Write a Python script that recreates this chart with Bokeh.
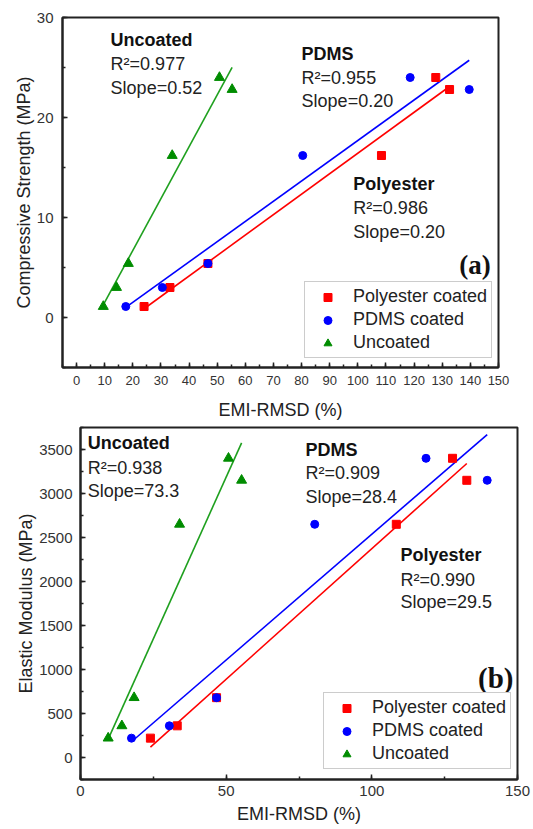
import numpy as np
from bokeh.plotting import figure
from bokeh.models import Label, Legend, LegendItem, SingleIntervalTicker, Range1d
from bokeh.embed import file_html
from bokeh.resources import INLINE

# ---------------- data ----------------
series_names = ["Polyester coated", "PDMS coated", "Uncoated"]
x_polyester = [24.0, 33.2, 46.7, 108.4, 127.7, 132.6]
x_pdms = [17.5, 30.5, 46.7, 80.4, 118.6, 139.6]
x_uncoated = [9.5, 14.2, 18.4, 34.0, 50.8, 55.3]
compressive_strength = [1.1, 3.0, 5.4, 16.2, 24.0, 22.8]
elastic_modulus = [220, 360, 680, 2650, 3400, 3150]

r2_a = {"Uncoated": "0.977", "PDMS": "0.955", "Polyester": "0.986"}
slope_a = {"Uncoated": "0.52", "PDMS": "0.20", "Polyester": "0.20"}
r2_b = {"Uncoated": "0.938", "PDMS": "0.909", "Polyester": "0.990"}
slope_b = {"Uncoated": "73.3", "PDMS": "28.4", "Polyester": "29.5"}

FONT = "Liberation Sans"
RED = "#ff0000"
BLUE = "#0000ff"
GREEN_M = "#008c00"
GREEN_L = "#1fa01f"
AXC = "#222222"


def style_axes(p, xint, yint, xfont, yfont, xstand, ylab_stand, xlab_stand, ystand):
    p.xaxis.ticker = SingleIntervalTicker(interval=xint, num_minor_ticks=2)
    p.yaxis.ticker = SingleIntervalTicker(interval=yint, num_minor_ticks=2)
    for ax in (p.xaxis[0], p.yaxis[0]):
        ax.major_tick_in = 5
        ax.major_tick_out = 0
        ax.minor_tick_in = 3
        ax.minor_tick_out = 0
        ax.axis_line_width = 2
        ax.axis_line_color = AXC
        ax.major_tick_line_color = AXC
        ax.major_tick_line_width = 1.5
        ax.minor_tick_line_color = AXC
        ax.minor_tick_line_width = 1.5
        ax.major_label_text_font = FONT
        ax.major_label_text_color = "#333333"
        ax.axis_label_text_font = FONT
        ax.axis_label_text_font_style = "normal"
        ax.axis_label_text_font_size = "18px"
        ax.axis_label_text_color = "#222222"
    p.xaxis.major_label_text_font_size = xfont
    p.yaxis.major_label_text_font_size = yfont
    p.xaxis.major_label_standoff = xstand
    p.yaxis.major_label_standoff = ystand
    p.xaxis.axis_label_standoff = xlab_stand
    p.yaxis.axis_label_standoff = ylab_stand
    p.xgrid.visible = False
    p.ygrid.visible = False
    p.outline_line_color = AXC
    p.outline_line_width = 2
    p.outline_line_alpha = 1


def add_series(p, yvals):
    renderers = []
    specs = [
        (x_polyester, "square", RED, RED, 8),
        (x_pdms, "circle", BLUE, BLUE, 8),
        (x_uncoated, "triangle", GREEN_M, GREEN_L, 10),
    ]
    for xs, marker, mc, lc, size in specs:
        k, b = np.polyfit(xs, yvals, 1)
        xl = np.array([min(xs), max(xs)])
        p.line(xl, k * xl + b, line_color=lc, line_width=1.6)
    for xs, marker, mc, lc, size in specs:
        r = p.scatter(xs, yvals, marker=marker, size=size, fill_color=mc, line_color=mc)
        renderers.append(r)
    return renderers


def add_legend(p, renderers, loc):
    items = [LegendItem(label=n, renderers=[r]) for n, r in zip(series_names, renderers)]
    lg = Legend(items=items, location=loc, padding=4, spacing=2, margin=0,
                glyph_width=37, glyph_height=20, label_height=20, label_standoff=7,
                label_text_font=FONT, label_text_font_size="18px", label_text_color="#222222",
                border_line_color="#999999", border_line_width=1,
                background_fill_color="white", background_fill_alpha=1)
    p.add_layout(lg)


def add_block(p, x, ys, title, r2, slope):
    p.add_layout(Label(x=x, y=ys[0], text=title, text_font=FONT, text_font_size="18px",
                       text_font_style="bold", text_color="#111111", text_baseline="middle"))
    p.add_layout(Label(x=x, y=ys[1], text="R\u00b2=" + r2, text_font=FONT, text_font_size="18px",
                       text_color="#222222", text_baseline="middle"))
    p.add_layout(Label(x=x, y=ys[2], text="Slope=" + slope, text_font=FONT, text_font_size="18px",
                       text_color="#222222", text_baseline="middle"))


# ---------------- panel (a) ----------------
p1 = figure(frame_width=436, frame_height=350, output_backend="svg", toolbar_location=None,
            x_range=Range1d(-5, 150), y_range=Range1d(-5, 30),
            min_border_left=62, min_border_top=17, min_border_right=20, min_border_bottom=53,
            x_axis_label="EMI-RMSD (%)", y_axis_label="Compressive Strength (MPa)")
style_axes(p1, 10, 10, "13px", "15px", 8, 0, 12, 9)
r1 = add_series(p1, compressive_strength)
add_legend(p1, r1, (242, 9))
add_block(p1, 12.1, [27.75, 25.35, 22.95], "Uncoated", r2_a["Uncoated"], slope_a["Uncoated"])
add_block(p1, 80.0, [26.35, 23.95, 21.7], "PDMS", r2_a["PDMS"], slope_a["PDMS"])
add_block(p1, 98.4, [13.4, 11.0, 8.6], "Polyester", r2_a["Polyester"], slope_a["Polyester"])
p1.add_layout(Label(x=147.2, y=5.3, text="(a)", text_font="Liberation Serif", text_font_size="27px",
                    text_font_style="bold", text_color="#111111", text_align="right",
                    text_baseline="middle"))

# ---------------- panel (b) ----------------
p2 = figure(frame_width=437, frame_height=352, output_backend="svg", toolbar_location=None,
            x_range=Range1d(0, 150), y_range=Range1d(-250, 3750),
            min_border_left=80, min_border_top=5, min_border_right=14, min_border_bottom=49,
            x_axis_label="EMI-RMSD (%)", y_axis_label="Elastic Modulus (MPa)")
style_axes(p2, 50, 500, "15px", "15px", 6, 0, 5, 8)
r2 = add_series(p2, elastic_modulus)
add_legend(p2, r2, (243, 10))
add_block(p2, 2.5, [3569, 3285, 3031], "Uncoated", r2_b["Uncoated"], slope_b["Uncoated"])
add_block(p2, 77.2, [3500, 3228, 2956], "PDMS", r2_b["PDMS"], slope_b["PDMS"])
add_block(p2, 109.8, [2301, 2017, 1764], "Polyester", r2_b["Polyester"], slope_b["Polyester"])
p2.add_layout(Label(x=148.6, y=906, text="(b)", text_font="Liberation Serif", text_font_size="29px",
                    text_font_style="bold", text_color="#111111", text_align="right",
                    text_baseline="middle"))

open("out.html", "w").write(file_html([p1, p2], INLINE))
